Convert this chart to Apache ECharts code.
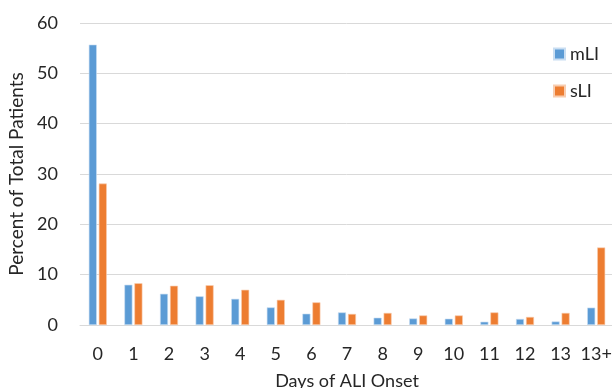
<!DOCTYPE html>
<html>
<head>
<meta charset="utf-8">
<script src="https://cdn.jsdelivr.net/npm/echarts@6/dist/echarts.min.js"></script>
<style>
html,body{margin:0;padding:0;background:#fff;}
#chart{width:612px;height:388px;}
</style>
</head>
<body>
<div id="chart"></div>
<script>
var categories = ['0','1','2','3','4','5','6','7','8','9','10','11','12','13','13+'];
var mLI = [55.7, 8.0, 6.2, 5.7, 5.2, 3.5, 2.25, 2.5, 1.45, 1.3, 1.25, 0.65, 1.2, 0.7, 3.45];
var sLI = [28.1, 8.3, 7.8, 7.9, 7.0, 5.0, 4.5, 2.2, 2.4, 1.9, 1.9, 2.5, 1.6, 2.4, 15.4];
var yTicks = {min: 0, max: 60, interval: 10};

var FONT = 'Lato';
var TXT = '#262626';
var chart = echarts.init(document.getElementById('chart'), null, {renderer: 'canvas'});
chart.setOption({
  animation: false,
  backgroundColor: '#ffffff',
  textStyle: {fontFamily: FONT},
  grid: {left: 80, top: 23, width: 534, bottom: 63, containLabel: false, outerBoundsMode: 'none'},
  legend: {
    orient: 'vertical',
    left: 553,
    top: 44,
    padding: 0,
    itemWidth: 11,
    itemHeight: 11,
    itemGap: 17,
    icon: 'rect',
    textStyle: {fontFamily: FONT, fontSize: 18, color: TXT, lineHeight: 20},
    data: ['mLI', 'sLI']
  },
  xAxis: {
    type: 'category',
    data: categories,
    name: 'Days of ALI Onset',
    nameLocation: 'middle',
    nameGap: 47,
    nameTextStyle: {fontFamily: FONT, fontSize: 18, color: TXT},
    axisLine: {show: true, lineStyle: {color: '#d9d9d9', width: 1}},
    axisTick: {show: false},
    axisLabel: {fontFamily: FONT, fontSize: 18, color: TXT, margin: 20, interval: 0}
  },
  yAxis: {
    type: 'value',
    min: yTicks.min,
    max: yTicks.max,
    interval: yTicks.interval,
    name: 'Percent of Total Patients',
    nameLocation: 'middle',
    nameGap: 52,
    nameTextStyle: {fontFamily: FONT, fontSize: 19, color: TXT},
    axisLine: {show: false},
    axisTick: {show: false},
    splitLine: {lineStyle: {color: '#d9d9d9', width: 1}},
    axisLabel: {fontFamily: FONT, fontSize: 18, color: TXT, margin: 22}
  },
  series: [
    {name: 'mLI', type: 'bar', data: mLI, barWidth: 8, barGap: '25%',
     itemStyle: {color: '#5B9BD5', borderColor: '#c9def2', borderWidth: 0.6}},
    {name: 'sLI', type: 'bar', data: sLI, barWidth: 8, barGap: '25%',
     itemStyle: {color: '#ED7D31', borderColor: '#f8cdb0', borderWidth: 0.6}}
  ]
});
</script>
</body>
</html>
